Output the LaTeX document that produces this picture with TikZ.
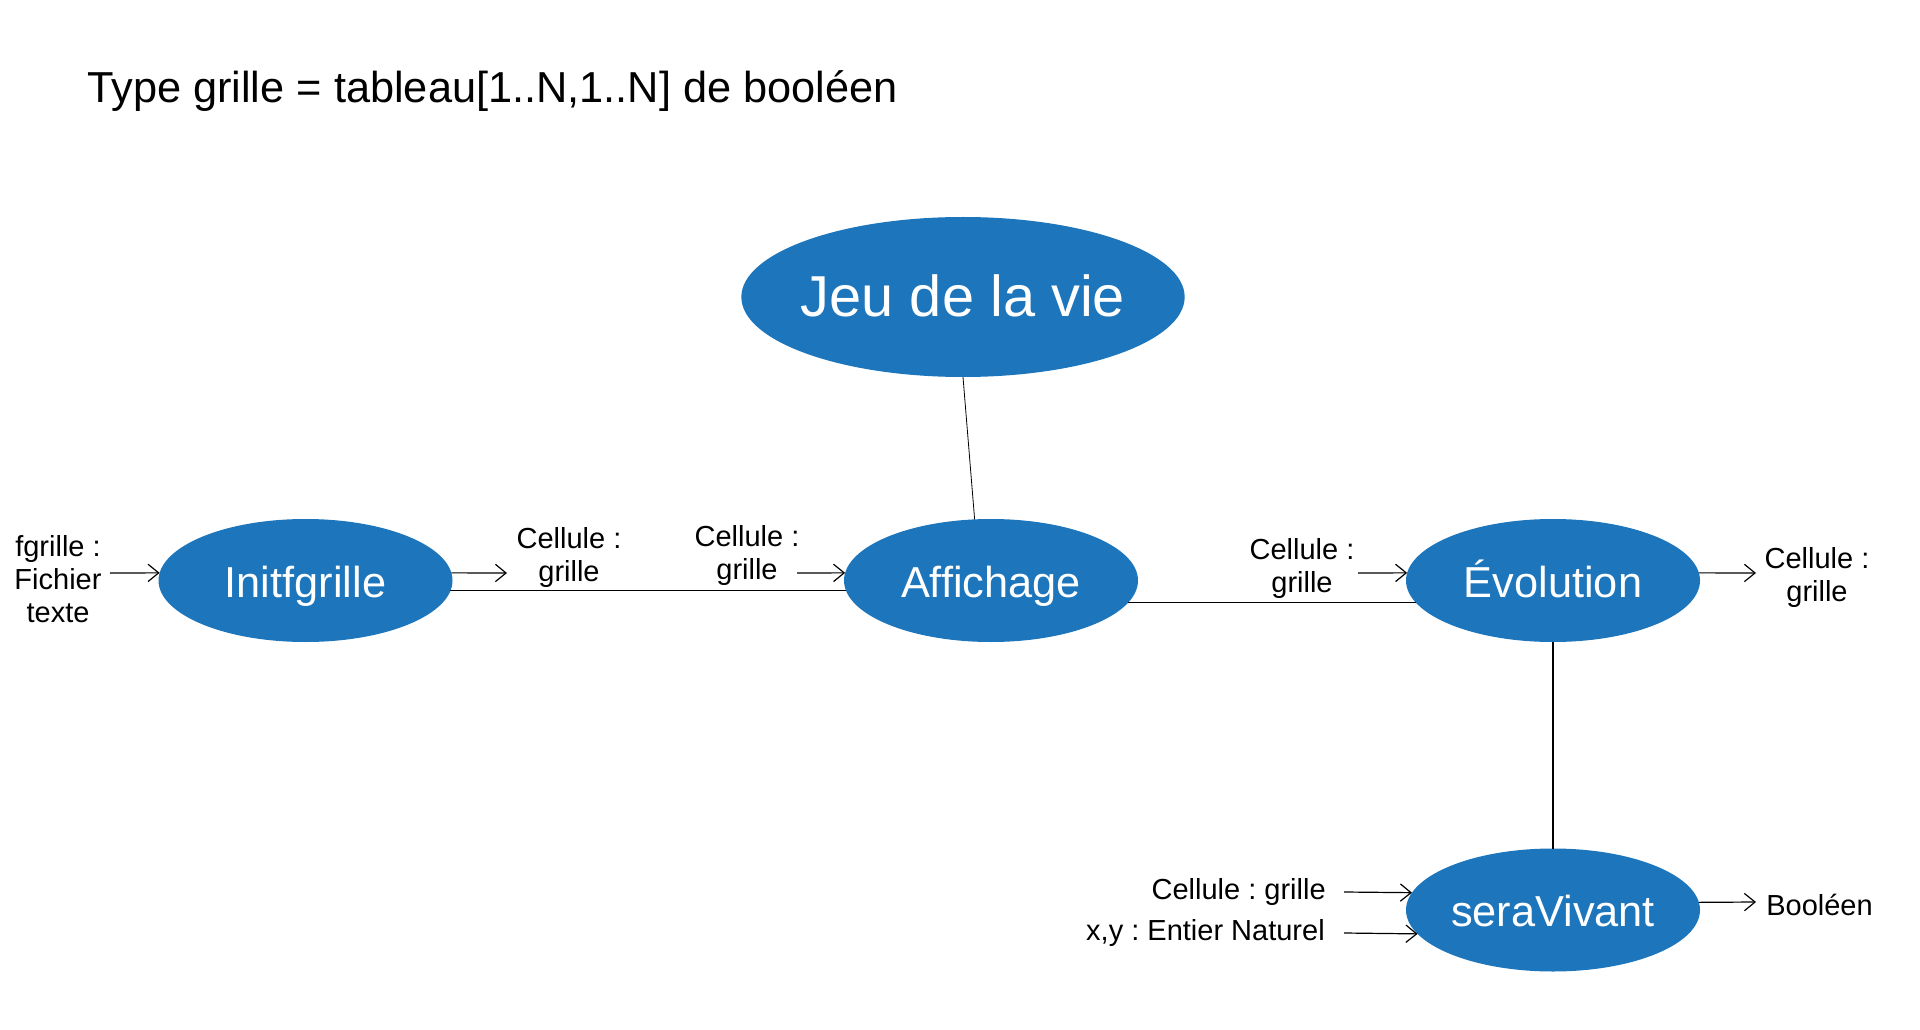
\documentclass[tikz,border=0pt]{standalone}
\usepackage{fontspec}
\setmainfont{Liberation Sans}
\frenchspacing
\usetikzlibrary{shapes.geometric,arrows.meta}
\definecolor{bleu}{RGB}{29,117,188}
\tikzstyle{module}=[ellipse,fill=bleu,text=white,inner sep=0pt,outer sep=0pt,minimum width=220.5pt,minimum height=92.25pt,text height=30pt,text depth=5.2pt,font=\fontsize{32.5}{38}\selectfont]
\tikzstyle{lien} = [draw,line width=1pt,-]
\tikzstyle{fleche} = [draw,line width=0.9pt,-{Straight Barb[length=8pt,width=13pt]}]
\tikzstyle{param} = [inner sep=0pt,align=center,font=\fontsize{21.75}{24.75}\selectfont]

\begin{document}
\begin{tikzpicture}[x=0.75pt,y=-0.75pt]
    \useasboundingbox (0,0) rectangle (1920,1030);
    % titre
    \node[anchor=base west,inner sep=0pt,font=\fontsize{32.5}{38}\selectfont] (titre) at (87,103) {Type grille = tableau[1..N,1..N] de booléen};
    % modules
    \node[module,minimum width=332.25pt,minimum height=120pt,inner xsep=-4pt,text height=36pt,text depth=6pt,font=\fontsize{43.3}{50}\selectfont] (jeu) at (963,297) {Jeu de la vie};
    \foreach \pos/\name/\texte in {{(305.5,580.5)/initf/Initfgrille}, {(991,580.5)/affich/Affichage}, {(1553,580.5)/evol/Évolution}, {(1553,910)/sera/seraVivant}}
        \node[module] (\name) at \pos {\texte};
    % liens
    \path[lien,line width=0.6pt] (jeu.south) -- (affich.105);
    \foreach \source/\dest in {initf.-4/affich.184, affich.-9/evol.189, evol.south/sera.north}
        \path[lien] (\source) -- (\dest);
    % parametres
    \foreach \pos/\name/\texte in {{(58,535)/pfgrille/{fgrille :\\ Fichier\\ texte}}, {(569,527)/pinitf/{Cellule :\\ grille}}, {(747,525)/paffich/{Cellule :\\ grille}}, {(1302,538)/pevol/{Cellule :\\ grille}}, {(1817,547)/sevol/{Cellule :\\ grille}}}
        \node[param,anchor=north] (\name) at \pos {\texte};
    \node[param,anchor=base east] (psera) at (1326,899) {Cellule : grille};
    \node[param,anchor=base east] (pxy) at (1325,940) {x,y : Entier Naturel};
    \node[param,anchor=base west] (ssera) at (1766,915) {Booléen};
    % fleches
    \coordinate (fa) at (110,573);
    \coordinate (fb) at (507,573);
    \coordinate (fc) at (797,573);
    \coordinate (fd) at (1358,573);
    \coordinate (fe) at (1756,573);
    \coordinate (ff) at (1344,892);
    \coordinate (fg) at (1344,933);
    \coordinate (fh) at (1756,902);
    \path[fleche] (fa) -- (initf.177);
    \path[fleche] (initf.3) -- (fb);
    \path[fleche] (fc) -- (affich.177);
    \path[fleche] (fd) -- (evol.177);
    \path[fleche] (evol.3) -- (fe);
    \path[fleche] (ff) -- (sera.173);
    \path[fleche] (fg) -- (sera.190);
    \path[fleche] (sera.3) -- (fh);
\end{tikzpicture}
\end{document}
